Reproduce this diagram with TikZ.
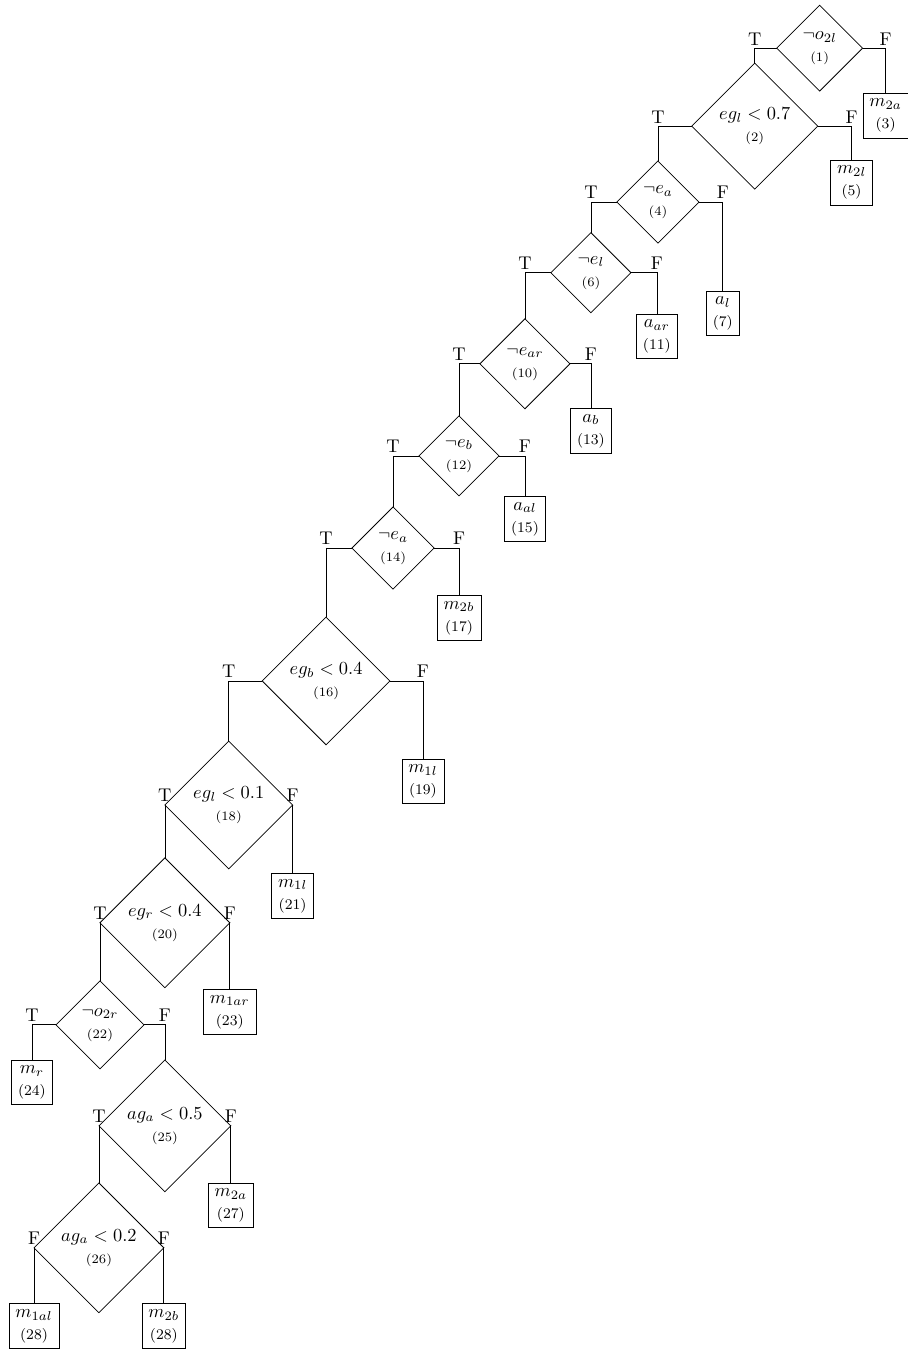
\documentclass[tikz,border=0pt]{standalone}
\usepackage{amsmath}
\usetikzlibrary{shapes.geometric}
\tikzset{
  dec/.style={diamond, draw, minimum size=#1, inner sep=0pt, outer sep=0pt, align=center},
  leaf/.style={draw, anchor=north, align=center, inner xsep=3.5pt, inner ysep=3pt, outer sep=0pt},
  tf/.style={pos=0.5, anchor=south, inner sep=1.5pt},
}

\begin{document}
\begin{tikzpicture}
  \useasboundingbox (0,0) rectangle (17.33,-25.85);
  % test nodes
  \node[dec=1.64cm] (d1)  at (15.66,-0.92)  {$\neg o_{2l}$\\\scriptsize(1)};
  \node[dec=2.41cm] (d2)  at (14.42,-2.41)  {$eg_l < 0.7$\\\scriptsize(2)};
  \node[dec=1.57cm] (d4)  at (12.57,-3.86)  {$\neg e_a$\\\scriptsize(4)};
  \node[dec=1.53cm] (d6)  at (11.29,-5.21)  {$\neg e_l$\\\scriptsize(6)};
  \node[dec=1.72cm] (d10) at (10.03,-6.95)  {$\neg e_{ar}$\\\scriptsize(10)};
  \node[dec=1.53cm] (d12) at (8.77,-8.71)   {$\neg e_b$\\\scriptsize(12)};
  \node[dec=1.57cm] (d14) at (7.51,-10.47)  {$\neg e_a$\\\scriptsize(14)};
  \node[dec=2.44cm] (d16) at (6.23,-13.01)  {$eg_b < 0.4$\\\scriptsize(16)};
  \node[dec=2.44cm] (d18) at (4.37,-15.38)  {$eg_l < 0.1$\\\scriptsize(18)};
  \node[dec=2.48cm] (d20) at (3.15,-17.63)  {$eg_r < 0.4$\\\scriptsize(20)};
  \node[dec=1.68cm] (d22) at (1.91,-19.58)  {$\neg o_{2r}$\\\scriptsize(22)};
  \node[dec=2.52cm] (d25) at (3.15,-21.51)  {$ag_a < 0.5$\\\scriptsize(25)};
  \node[dec=2.48cm] (d26) at (1.89,-23.84)  {$ag_a < 0.2$\\\scriptsize(26)};
  % leaves
  \node[leaf] (b3)  at (16.92,-1.78)  {$m_{2a}$\\\footnotesize(3)};
  \node[leaf] (b5)  at (16.27,-3.06)  {$m_{2l}$\\\footnotesize(5)};
  \node[leaf] (b7)  at (13.81,-5.56)  {$a_l$\\\footnotesize(7)};
  \node[leaf] (b11) at (12.55,-6.00)  {$a_{ar}$\\\footnotesize(11)};
  \node[leaf] (b13) at (11.29,-7.81)  {$a_b$\\\footnotesize(13)};
  \node[leaf] (b15) at (10.03,-9.49)  {$a_{al}$\\\footnotesize(15)};
  \node[leaf] (b17) at (8.77,-11.38)  {$m_{2b}$\\\footnotesize(17)};
  \node[leaf] (b19) at (8.08,-14.50)  {$m_{1l}$\\\footnotesize(19)};
  \node[leaf] (b21) at (5.59,-16.69)  {$m_{1l}$\\\footnotesize(21)};
  \node[leaf] (b23) at (4.39,-18.91)  {$m_{1ar}$\\\footnotesize(23)};
  \node[leaf] (b24) at (0.61,-20.25)  {$m_r$\\\footnotesize(24)};
  \node[leaf] (b27) at (4.41,-22.60)  {$m_{2a}$\\\footnotesize(27)};
  \node[leaf] (b28a) at (0.65,-24.91) {$m_{1al}$\\\footnotesize(28)};
  \node[leaf] (b28b) at (3.13,-24.91) {$m_{2b}$\\\footnotesize(28)};
  % true branches
  \draw (d1.west)  -| node[tf]{T} (d2.north);
  \draw (d2.west)  -| node[tf]{T} (d4.north);
  \draw (d4.west)  -| node[tf]{T} (d6.north);
  \draw (d6.west)  -| node[tf]{T} (d10.north);
  \draw (d10.west) -| node[tf]{T} (d12.north);
  \draw (d12.west) -| node[tf]{T} (d14.north);
  \draw (d14.west) -| node[tf]{T} (d16.north);
  \draw (d16.west) -| node[tf]{T} (d18.north);
  \draw (d18.west) -| node[tf]{T} (d20.north);
  \draw (d20.west) -| node[tf]{T} (d22.north);
  \draw (d22.west) -| node[tf]{T} (b24.north);
  \draw (d25.west) -| node[tf]{T} (d26.north);
  \draw (d26.west) -| node[tf]{F} (b28a.north);
  % false branches
  \draw (d1.east)  -| node[tf]{F} (b3.north);
  \draw (d2.east)  -| node[tf]{F} (b5.north);
  \draw (d4.east)  -| node[tf]{F} (b7.north);
  \draw (d6.east)  -| node[tf]{F} (b11.north);
  \draw (d10.east) -| node[tf]{F} (b13.north);
  \draw (d12.east) -| node[tf]{F} (b15.north);
  \draw (d14.east) -| node[tf]{F} (b17.north);
  \draw (d16.east) -| node[tf]{F} (b19.north);
  \draw (d18.east) -| node[tf]{F} (b21.north);
  \draw (d20.east) -| node[tf]{F} (b23.north);
  \draw (d22.east) -| node[tf]{F} (d25.north);
  \draw (d25.east) -| node[tf]{F} (b27.north);
  \draw (d26.east) -| node[tf]{F} (b28b.north);
\end{tikzpicture}
\end{document}
